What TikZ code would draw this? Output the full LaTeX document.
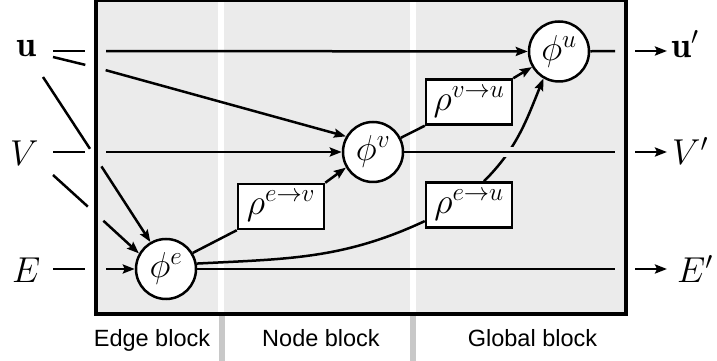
\RequirePackage{fix-cm}
\documentclass[tikz,border=0pt]{standalone}
\usepackage{fontspec}
\newfontfamily\blockfont{Liberation Sans}
\usetikzlibrary{arrows.meta,calc}
\definecolor{bgray}{RGB}{235,235,235}
\definecolor{dgray}{RGB}{200,200,200}
\newcommand\bigmathsize{\fontsize{36}{40}\selectfont}
\tikzset{
  ln/.style={line width=2.5pt},
  arr/.style={ln, -{Stealth[length=12pt,width=9pt,inset=2pt]}},
  outseg/.style={ln, shorten >=11pt},
  inseg/.style={shorten <=10pt},
  fn/.style={circle, draw, line width=2.5pt, fill=white, minimum size=60pt, inner sep=0pt, font=\bigmathsize},
  agg/.style={rectangle, draw, line width=2.5pt, fill=white, minimum width=86pt, minimum height=45pt, inner sep=0pt, font=\bigmathsize},
  lbl/.style={font=\bigmathsize, inner sep=0pt, anchor=base west},
  blk/.style={font=\blockfont\fontsize{23.5}{28}\selectfont, anchor=base, inner sep=0pt},
  halo/.style={preaction={draw=bgray, line width=10pt, shorten <=40pt, shorten >=50pt}}
}
\begin{document}
\begin{tikzpicture}[x=1pt,y=1pt]
\useasboundingbox (0,0) rectangle (717,361);
% box background and dividers
\fill[bgray] (96,47) rectangle (626,361);
\draw[white, line width=6pt] (221,47) -- (221,361);
\draw[white, line width=6pt] (413,47) -- (413,361);
\draw[dgray, line width=6pt] (222,0) -- (222,47);
\draw[dgray, line width=6pt] (413,0) -- (413,47);

% function nodes
\node[fn] (phie) at (166,92) {$\phi^e$};
\node[fn] (phiv) at (373,209) {$\phi^v$};
\node[fn] (phiu) at (559,309.5) {$\phi^u$};
\node[agg] (rev) at (281,154.5) {$\rho^{e\rightarrow v}$};
\node[agg] (rvu) at (469,259) {$\rho^{v\rightarrow u}$};
\node[agg] (reu) at (469,156) {$\rho^{e\rightarrow u}$};

% labels
\node[lbl] (lu) at (16,304) {$\mathbf{u}$};
\node[lbl] (lV) at (10,195) {$V$};
\node[lbl] (lE) at (12,78) {$E$};
\node[lbl] (ou) at (671,303) {$\mathbf{u}'$};
\node[lbl] (oV) at (672,196) {$V'$};
\node[lbl] (oE) at (677,78) {$E'$};

% coordinates
\coordinate (su1) at (53,310);
\coordinate (cu1) at (96,310);
\coordinate (su2) at (53,304);
\coordinate (cu2) at (96,293.5);
\coordinate (su3) at (43,284);
\coordinate (cu3) at (96,203);
\coordinate (sV1) at (53,209);
\coordinate (cV1) at (96,209);
\coordinate (sV2) at (53,186);
\coordinate (cV2) at (96,147);
\coordinate (sE) at (53,92);
\coordinate (cE) at (96,92);
\coordinate (cuo) at (626,310);
\coordinate (cVo) at (626,209);
\coordinate (cEo) at (626,92);
\coordinate (eu) at (667,310);
\coordinate (eV) at (667,209);
\coordinate (eE) at (667,92);

% inputs
\draw[outseg] (su1) -- (cu1);
\draw[arr, inseg] (cu1) -- (phiu);
\draw[outseg] (su2) -- (cu2);
\draw[arr, inseg] (cu2) -- (phiv.150);
\draw[outseg] (su3) -- (cu3);
\draw[arr, inseg] (cu3) -- (phie.120);
\draw[outseg] (sV1) -- (cV1);
\draw[arr, inseg] (cV1) -- (phiv);
\draw[outseg] (sV2) -- (cV2);
\draw[arr, inseg] (cV2) -- (phie.150);
\draw[outseg] (sE) -- (cE);
\draw[arr, inseg] (cE) -- (phie);

% internal
\draw[ln] (phie.31) -- (rev.south west);
\draw[arr] (rev.north east) -- (phiv.210);
\draw[ln] (phiv.27) -- (rvu.south west);
\draw[arr] (rvu.north east) -- (phiu.210);
\draw[ln] (phie.10) to[out=3, in=205] (reu.200);
\draw[arr] ([xshift=15pt]reu.north) to[out=45, in=248] (phiu.240);

% outputs
\draw[outseg] (phiu) -- (cuo);
\draw[outseg, halo] (phiv) -- (cVo);
\draw[outseg] (phie) -- (cEo);
\draw[arr, shorten <=9pt] (cuo) -- (eu);
\draw[arr, shorten <=9pt] (cVo) -- (eV);
\draw[arr, shorten <=9pt] (cEo) -- (eE);

% border
\draw[line width=4.5pt] (96,47) rectangle (626,361);

% block labels
\node[blk] (tedge) at (152,14.5) {Edge block};
\node[blk] (tnode) at (321,14.5) {Node block};
\node[blk] (tglob) at (532.5,14.5) {Global block};
\end{tikzpicture}
\end{document}
